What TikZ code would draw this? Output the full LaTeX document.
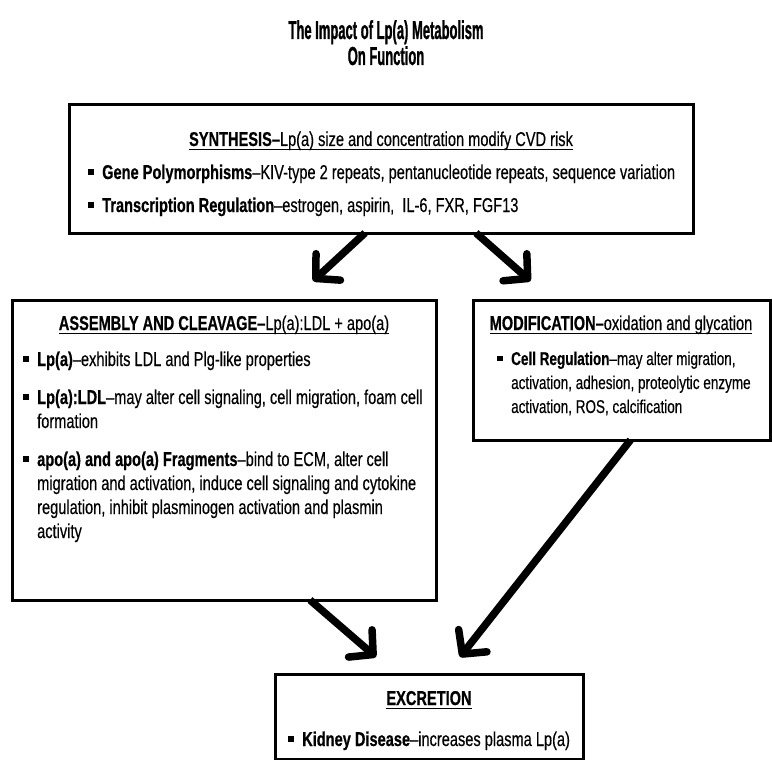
\documentclass[tikz,border=0pt]{standalone}
\usepackage{fontspec}
\setmainfont{Liberation Sans}[FakeStretch=0.73, UprightFeatures={FakeBold=0.35}, BoldFeatures={FakeBold=0.5}]
\newfontfamily\titlefont{Liberation Sans}[FakeStretch=0.5, BoldFeatures={FakeBold=0.8}]
\usetikzlibrary{arrows.meta}
\newcommand\sqbul{\rule[0.2em]{0.3em}{0.3em}}
\newcommand\bul{\makebox[14pt][l]{\sqbul}}
\newcommand\ulin[1]{\setbox0\hbox{#1}\rlap{\rule[-4.4pt]{\wd0}{1.5pt}}\box0}
\begin{document}
\begin{tikzpicture}[x=1pt,y=-1pt,
  box/.style={draw, line width=3pt, inner sep=0pt, outer sep=0pt, anchor=north west},
  ttl/.style={inner sep=0pt, anchor=base, font=\titlefont\bfseries\fontsize{26}{30}\selectfont},
  head/.style={inner sep=0pt, anchor=base, font=\fontsize{20}{24}\selectfont},
  txt/.style={inner sep=0pt, anchor=base west, font=\fontsize{20}{24}\selectfont},
  stxt/.style={txt, font=\fontsize{18.5}{22}\selectfont},
  fat/.style={line width=7.5pt, line cap=butt, -{Straight Barb[length=17pt,width=36pt,line width=7.5pt,round]}}]
\useasboundingbox[fill=white] (0,0) rectangle (772,760);

% title
\node[ttl] (t1) at (386,39) {The Impact of Lp(a) Metabolism};
\node[ttl] (t2) at (386,65) {On Function};

% synthesis
\node[box, minimum width=624pt, minimum height=128pt] (syn) at (69,105) {};
\node[head] (synh) at (381,146) {\ulin{\textbf{SYNTHESIS–}Lp(a) size and concentration modify CVD risk}};
\node[txt] (syn1) at (88,179) {\bul\textbf{Gene Polymorphisms}–KIV-type 2 repeats, pentanucleotide repeats, sequence variation};
\node[txt] (syn2) at (88,212) {\bul\textbf{Transcription Regulation}–estrogen, aspirin,\ \ IL-6, FXR, FGF13};

% assembly
\node[box, minimum width=424pt, minimum height=300pt] (asm) at (12,300) {};
\node[head] (asmh) at (224,330) {\ulin{\textbf{ASSEMBLY AND CLEAVAGE–}Lp(a):LDL + apo(a)}};
\node[txt] (asm1) at (23,366) {\bul\textbf{Lp(a)}–exhibits LDL and Plg-like properties};
\node[txt] (asm2) at (23,404) {\bul\textbf{Lp(a):LDL}–may alter cell signaling, cell migration, foam cell};
\node[txt] (asm3) at (37,428) {formation};
\node[txt] (asm4) at (23,466) {\bul\textbf{apo(a) and apo(a) Fragments}–bind to ECM, alter cell};
\node[txt] (asm5) at (37,490) {migration and activation, induce cell signaling and cytokine};
\node[txt] (asm6) at (37,514) {regulation, inhibit plasminogen activation and plasmin};
\node[txt] (asm7) at (37,538) {activity};

% modification
\node[box, minimum width=297pt, minimum height=140pt] (mod) at (473,300) {};
\node[head] (modh) at (621,330) {\ulin{\textbf{MODIFICATION–}oxidation and glycation}};
\node[stxt] (mod1) at (497,365) {\bul\textbf{Cell Regulation}–may alter migration,};
\node[stxt] (mod2) at (511,389) {activation, adhesion, proteolytic enzyme};
\node[stxt] (mod3) at (511,413) {activation, ROS, calcification};

% excretion
\node[box, minimum width=308pt, minimum height=85pt] (exc) at (275,674) {};
\node[head] (exch) at (429,705) {\ulin{\textbf{EXCRETION}}};
\node[txt] (exc1) at (288,746) {\bul\textbf{Kidney Disease}–increases plasma Lp(a)};

% arrows
\draw[fat] ([xshift=-16pt]syn.south) -- ([xshift=89pt,yshift=19pt]asm.north);
\draw[fat] ([xshift=95pt]syn.south) -- ([xshift=-91pt,yshift=19pt]mod.north);
\draw[fat] ([xshift=86pt]asm.south) -- ([xshift=-53pt,yshift=17pt]exc.north);
\draw[fat] ([xshift=9pt]mod.south) -- ([xshift=31pt,yshift=17pt]exc.north);
\end{tikzpicture}
\end{document}
